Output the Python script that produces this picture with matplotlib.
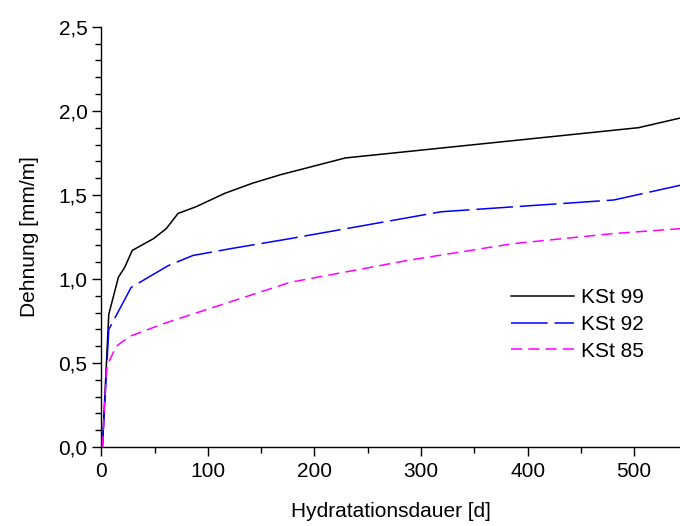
import numpy as np
import matplotlib
matplotlib.use("Agg")
from matplotlib import pyplot as plt
from matplotlib.ticker import MultipleLocator, FuncFormatter

plt.rcParams["font.family"] = ["Liberation Sans", "DejaVu Sans"]
plt.rcParams["font.size"] = 15

# data
days_99 = [1, 7, 16, 22, 29, 49, 61, 72, 89, 116, 142, 168, 229, 504, 545]
strain_99 = [0.0, 0.79, 1.01, 1.07, 1.17, 1.24, 1.30, 1.39, 1.43, 1.51, 1.57, 1.62, 1.72, 1.90, 1.96]

days_92 = [1, 7, 28, 63, 86, 121, 177, 319, 481, 545]
strain_92 = [0.0, 0.70, 0.95, 1.08, 1.14, 1.18, 1.24, 1.40, 1.47, 1.56]

days_85 = [1, 5, 14, 27, 61, 177, 287, 386, 480, 545]
strain_85 = [0.0, 0.48, 0.60, 0.66, 0.74, 0.98, 1.11, 1.21, 1.27, 1.30]

fig = plt.figure(figsize=(6.8, 5.26), dpi=100)
ax = fig.add_axes([0.149, 0.150, 0.851, 0.799])

ax.plot(days_99, strain_99, color="black", lw=1.1, label="KSt 99")
ax.plot(days_92, strain_92, color="#0000ff", lw=1.1, dashes=(24, 4.5), label="KSt 92")
ax.plot(days_85, strain_85, color="#ff00ff", lw=1.1, dashes=(7.3, 4), label="KSt 85")

ax.set_xlim(0, 543)
ax.set_ylim(0, 2.5)
ax.xaxis.set_major_locator(MultipleLocator(100))
ax.xaxis.set_minor_locator(MultipleLocator(50))
ax.yaxis.set_major_locator(MultipleLocator(0.5))
ax.yaxis.set_minor_locator(MultipleLocator(0.1))
ax.yaxis.set_major_formatter(FuncFormatter(lambda v, p: ("%.1f" % v).replace(".", ",")))

for side in ["top", "right"]:
    ax.spines[side].set_visible(False)
for side in ["left", "bottom"]:
    ax.spines[side].set_linewidth(1.0)
ax.spines["left"].set_zorder(0.5)
ax.spines["bottom"].set_zorder(0.5)

ax.tick_params(which="major", direction="out", length=6.5, width=1.0, pad=3.5)
ax.tick_params(which="minor", direction="out", length=4, width=1.0)
ax.tick_params(axis="x", which="major", pad=4)

ax.set_xlabel("Hydratationsdauer [d]", labelpad=15)
ax.set_ylabel("Dehnung [mm/m]", labelpad=14)

ax.legend(loc="upper left", bbox_to_anchor=(0.752, 0.452), bbox_transform=fig.transFigure,
          frameon=False, handlelength=3.0, handletextpad=0.33, labelspacing=0.37,
          borderpad=0, borderaxespad=0)

fig.savefig("out.png", dpi=100)
